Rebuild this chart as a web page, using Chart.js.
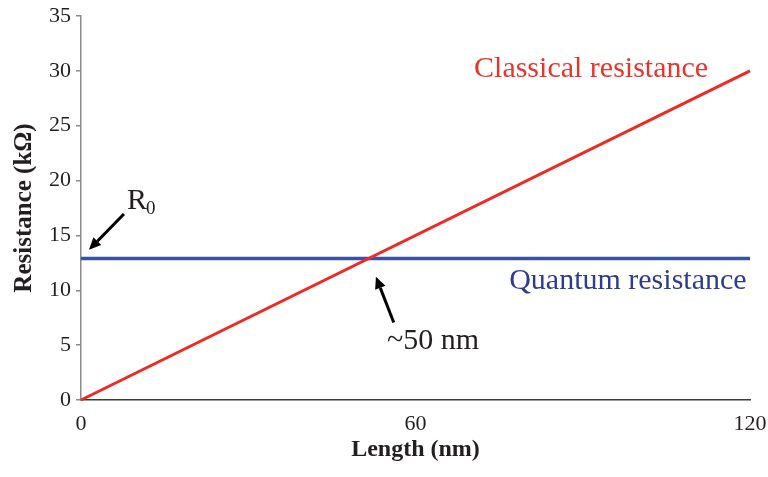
<!DOCTYPE html>
<html>
<head>
<meta charset="utf-8">
<script src="https://cdn.jsdelivr.net/npm/chart.js@4"></script>
<style>
  html, body { margin: 0; padding: 0; background: #fff; }
  #wrap { width: 768px; height: 477px; }
</style>
</head>
<body>
<div id="wrap"><canvas id="resChart"></canvas></div>
<script>
// length (nm) at the two ends of each line
const lengths = [0, 120];
// classical resistance grows linearly with length (kOhm)
const classical = [0, 30];
// quantum resistance R0 is constant (kOhm)
const quantum = [12.9, 12.9];
const xTicks = [0, 60, 120];
const yTicks = [0, 5, 10, 15, 20, 25, 30, 35];

const SERIF = '"Liberation Serif", "Times New Roman", serif';

function toPoints(xs, ys) {
    return xs.map((x, i) => ({ x: x, y: ys[i] }));
}

function drawArrow(ctx, x1, y1, x2, y2) {
    const ang = Math.atan2(y2 - y1, x2 - x1);
    const head = 12, half = 5.5;
    const bx = x2 - head * Math.cos(ang), by = y2 - head * Math.sin(ang);
    ctx.strokeStyle = '#000';
    ctx.fillStyle = '#000';
    ctx.lineWidth = 3;
    ctx.beginPath();
    ctx.moveTo(x1, y1);
    ctx.lineTo(bx, by);
    ctx.stroke();
    ctx.beginPath();
    ctx.moveTo(x2, y2);
    ctx.lineTo(bx + half * Math.sin(ang), by - half * Math.cos(ang));
    ctx.lineTo(bx - half * Math.sin(ang), by + half * Math.cos(ang));
    ctx.closePath();
    ctx.fill();
}

// labels and arrows placed in data coordinates
const annotations = {
    id: 'annotations',
    afterDatasetsDraw(chart) {
        const ctx = chart.ctx;
        const xs = chart.scales.x, ys = chart.scales.y;
        const px = v => xs.getPixelForValue(v);
        const py = v => ys.getPixelForValue(v);
        ctx.save();
        ctx.textBaseline = 'alphabetic';
        ctx.textAlign = 'left';

        ctx.font = '30px ' + SERIF;
        ctx.fillStyle = '#e8352b';
        ctx.fillText('Classical resistance', px(70.5), py(29.4));

        ctx.fillStyle = '#2e3b91';
        ctx.fillText('Quantum resistance', px(76.8), py(10.15));

        ctx.fillStyle = '#231f20';
        ctx.fillText('~50 nm', px(54.9), py(4.62));

        // R0 with subscript
        const rx = px(8.25), ry = py(17.4);
        ctx.fillText('R', rx, ry);
        const rw = ctx.measureText('R').width;
        ctx.font = '19px ' + SERIF;
        ctx.fillText('0', rx + rw - 1, ry + 5);

        drawArrow(ctx, px(7.7), py(16.95), px(1.43), py(13.69));
        drawArrow(ctx, px(56.1), py(7.07), px(52.9), py(11.24));
        ctx.restore();
    }
};

new Chart(document.getElementById('resChart'), {
    type: 'line',
    data: {
        datasets: [{
            label: 'Classical resistance',
            data: toPoints(lengths, classical),
            borderColor: '#ee2a24',
            borderWidth: 3,
            pointRadius: 0,
            clip: false
        }, {
            label: 'Quantum resistance',
            data: toPoints(lengths, quantum),
            borderColor: '#3953a4',
            borderWidth: 3.5,
            pointRadius: 0,
            clip: false
        }]
    },
    options: {
        responsive: true,
        maintainAspectRatio: false,
        animation: false,
        layout: { padding: { top: 16, right: 18, left: 0, bottom: 0 } },
        plugins: {
            legend: { display: false },
            tooltip: { enabled: false }
        },
        scales: {
            x: {
                type: 'linear',
                min: 0,
                max: 120,
                afterFit(scale) {
                    scale.height = 77;
                    scale.paddingLeft = 0;
                    scale.paddingRight = 0;
                },
                afterBuildTicks(scale) { scale.ticks = xTicks.map(v => ({ value: v })); },
                grid: { display: false, drawTicks: false },
                border: { display: true, color: '#3a3a3a', width: 1.5 },
                ticks: {
                    padding: 11,
                    color: '#231f20',
                    font: { family: SERIF, size: 22 },
                    maxRotation: 0
                },
                title: {
                    display: true,
                    text: 'Length (nm)',
                    color: '#231f20',
                    font: { family: SERIF, size: 24, weight: 'bold' },
                    padding: { top: 0, bottom: 13 }
                }
            },
            y: {
                min: 0,
                max: 35,
                afterFit(scale) {
                    scale.width = 81;
                    scale.paddingTop = 0;
                    scale.paddingBottom = 0;
                },
                afterBuildTicks(scale) { scale.ticks = yTicks.map(v => ({ value: v })); },
                grid: {
                    drawOnChartArea: false,
                    drawTicks: true,
                    tickLength: 5,
                    color: '#8a8a8a',
                    lineWidth: 1.5
                },
                border: { display: true, color: '#8a8a8a', width: 1.5 },
                ticks: {
                    padding: 5,
                    color: '#231f20',
                    font: { family: SERIF, size: 22 }
                },
                title: {
                    display: true,
                    text: 'Resistance (kΩ)',
                    color: '#231f20',
                    font: { family: SERIF, size: 25, weight: 'bold' },
                    padding: { top: 10, bottom: 0 }
                }
            }
        }
    },
    plugins: [annotations]
});
</script>
</body>
</html>
